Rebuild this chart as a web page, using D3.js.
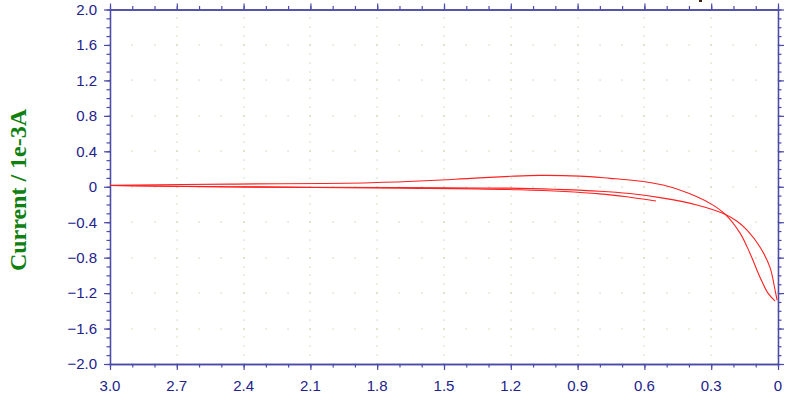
<!DOCTYPE html>
<html>
<head>
<meta charset="utf-8">
<script src="https://cdn.jsdelivr.net/npm/d3@7"></script>
<style>
  body { margin: 0; background: #fff; }
  svg { display: block; }
</style>
</head>
<body>
<div id="chart"></div>
<script>
// potential (V) and current (1e-3 A)
const fwdPotential = [3.0, 2.46, 1.83, 1.56, 1.38, 1.2, 1.07, 0.89, 0.754, 0.665, 0.516, 0.364, 0.292, 0.238, 0.171, 0.126, 0.081, 0.045, 0.013];
const fwdCurrent   = [0.016, 0.03, 0.045, 0.07, 0.095, 0.118, 0.128, 0.12, 0.095, 0.076, 0.019, -0.113, -0.207, -0.308, -0.52, -0.75, -1.02, -1.2, -1.29];

const revPotential = [0.004, 0.013, 0.036, 0.081, 0.139, 0.184, 0.238, 0.364, 0.516, 0.665, 0.8, 1.16, 1.7, 2.46, 3.0];
const revCurrent   = [-1.28, -1.17, -0.91, -0.68, -0.49, -0.39, -0.31, -0.205, -0.128, -0.077, -0.05, -0.018, -0.009, 0.0, 0.014];

const secPotential = [3.0, 2.46, 1.7, 1.16, 0.8, 0.665, 0.548];
const secCurrent   = [0.014, -0.003, -0.015, -0.034, -0.08, -0.118, -0.161];

const xMajor = [3.0, 2.7, 2.4, 2.1, 1.8, 1.5, 1.2, 0.9, 0.6, 0.3, 0];
const yMajor = [2.0, 1.6, 1.2, 0.8, 0.4, 0, -0.4, -0.8, -1.2, -1.6, -2.0];

const width = 800, height = 403;
const margin = { top: 9.5, right: 22, bottom: 39, left: 110 };

const x = d3.scaleLinear().domain([3.0, 0]).range([margin.left, width - margin.right]);
const y = d3.scaleLinear().domain([-2.0, 2.0]).range([height - margin.bottom, margin.top]);

const axisColor = "#4a4aa8";
const labelColor = "#22228a";
const dotColor = "#bcc698";

const svg = d3.select("#chart").append("svg").attr("width", width).attr("height", height);

const xMinor = d3.range(0, 31).map(i => i / 10);
const yMinor = d3.range(-20, 21).map(i => i / 10);
const fmt = v => v === 0 ? "0" : d3.format(".1f")(v);

// dotted grid: vertical lines at major x with dots on minor y, horizontal at major y with dots on minor x
const dots = [];
xMajor.forEach(xv => yMinor.forEach(yv => dots.push([xv, yv])));
yMajor.forEach(yv => xMinor.forEach(xv => dots.push([xv, yv])));
svg.append("g").selectAll("rect")
    .data(dots)
    .join("rect")
    .attr("x", d => Math.round(x(d[0])) - 0.5)
    .attr("y", d => Math.round(y(d[1])) - 0.5)
    .attr("width", 1.1)
    .attr("height", 1.1)
    .attr("fill", dotColor);

function drawAxis(axis, tx, ty) {
    const g = svg.append("g").attr("transform", `translate(${tx},${ty})`).call(axis);
    g.selectAll("path").attr("stroke", axisColor).attr("stroke-width", 1.3);
    g.selectAll("line").attr("stroke", axisColor).attr("stroke-width", 1.2);
    g.selectAll("text").remove();
    return g;
}

// minor ticks
drawAxis(d3.axisBottom(x).tickValues(xMinor).tickSize(3.5).tickSizeOuter(0), 0, y(-2.0));
drawAxis(d3.axisTop(x).tickValues(xMinor).tickSize(3.5).tickSizeOuter(0), 0, y(2.0));
drawAxis(d3.axisLeft(y).tickValues(yMinor).tickSize(3.5).tickSizeOuter(0), x(3.0), 0);
drawAxis(d3.axisRight(y).tickValues(yMinor).tickSize(3.5).tickSizeOuter(0), x(0), 0);
// major ticks
drawAxis(d3.axisBottom(x).tickValues(xMajor).tickSize(6).tickSizeOuter(0), 0, y(-2.0));
drawAxis(d3.axisTop(x).tickValues(xMajor).tickSize(6).tickSizeOuter(0), 0, y(2.0));
drawAxis(d3.axisLeft(y).tickValues(yMajor).tickSize(6).tickSizeOuter(0), x(3.0), 0);
drawAxis(d3.axisRight(y).tickValues(yMajor).tickSize(6).tickSizeOuter(0), x(0), 0);

// tick labels
svg.append("g").selectAll("text")
    .data(xMajor)
    .join("text")
    .attr("x", d => x(d))
    .attr("y", 390.5)
    .attr("text-anchor", "middle")
    .attr("font-family", "Liberation Sans, Arial, sans-serif")
    .attr("font-size", 15)
    .attr("fill", labelColor)
    .text(fmt);

svg.append("g").selectAll("text")
    .data(yMajor)
    .join("text")
    .attr("x", 97)
    .attr("y", d => y(d) + 5.3)
    .attr("text-anchor", "end")
    .attr("font-family", "Liberation Sans, Arial, sans-serif")
    .attr("font-size", 15)
    .attr("fill", labelColor)
    .text(fmt);

// y title
svg.append("text")
    .attr("transform", "translate(26,190) rotate(-90)")
    .attr("text-anchor", "middle")
    .attr("font-family", "Liberation Serif, Times New Roman, serif")
    .attr("font-weight", 700)
    .attr("font-size", 24)
    .attr("fill", "#108010")
    .text("Current / 1e-3A");

// cut-off mark at the top edge
svg.append("rect").attr("x", 699).attr("y", 0).attr("width", 3).attr("height", 2).attr("fill", "#402010");

// curves
const line = d3.line()
    .x(d => x(d[0]))
    .y(d => y(d[1]))
    .curve(d3.curveCatmullRom.alpha(0.5));

const segments = [
    d3.zip(fwdPotential, fwdCurrent),
    d3.zip(revPotential, revCurrent),
    d3.zip(secPotential, secCurrent)
];

svg.append("g").selectAll("path")
    .data(segments)
    .join("path")
    .attr("d", line)
    .attr("fill", "none")
    .attr("stroke", "#ff2020")
    .attr("stroke-width", 1.1);
</script>
</body>
</html>
